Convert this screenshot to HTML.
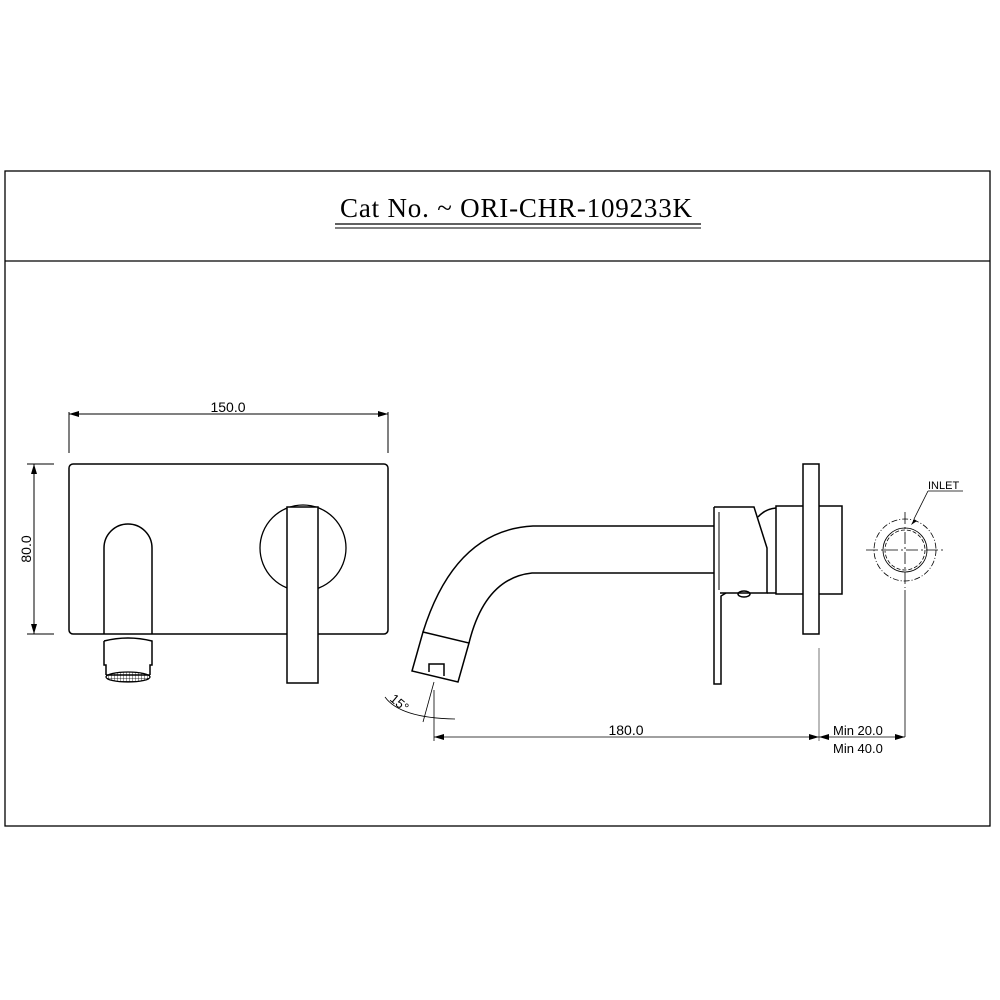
<!DOCTYPE html>
<html><head><style>body{margin:0;background:#fff}svg{display:block}</style></head><body>
<svg width="1000" height="1000" viewBox="0 0 1000 1000" xmlns="http://www.w3.org/2000/svg" font-family="Liberation Sans, sans-serif">
<defs>
<marker id="a" viewBox="0 0 10 6" refX="10" refY="3" markerWidth="10" markerHeight="6" orient="auto-start-reverse" markerUnits="userSpaceOnUse"><path d="M0,0L10,3L0,6z" fill="#000"/></marker>
<pattern id="h" width="3" height="3" patternUnits="userSpaceOnUse"><path d="M0,0H3M0,0V3" stroke="#000" stroke-width="0.8"/></pattern>
</defs>
<g fill="none" stroke="#000" stroke-width="1.3">
<rect x="5" y="171" width="985" height="655"/>
<line x1="5" y1="261" x2="990" y2="261"/>
<line x1="335" y1="224" x2="701" y2="224"/>
<line x1="335" y1="228" x2="701" y2="228" stroke-width="1"/>
</g>
<text x="340" y="217" font-family="Liberation Serif, serif" font-size="27" textLength="352" lengthAdjust="spacing">Cat No. ~ ORI-CHR-109233K</text>

<g fill="none" stroke="#000" stroke-width="1">
<line x1="69" y1="412" x2="69" y2="453"/><line x1="388" y1="412" x2="388" y2="453"/>
<line x1="69" y1="414" x2="388" y2="414" marker-start="url(#a)" marker-end="url(#a)"/>
<line x1="27" y1="464" x2="54" y2="464"/><line x1="27" y1="634" x2="54" y2="634"/>
<line x1="34" y1="464" x2="34" y2="634" marker-start="url(#a)" marker-end="url(#a)"/>
</g>
<text x="228" y="412" font-size="14" text-anchor="middle">150.0</text>
<text x="0" y="0" font-size="14" text-anchor="middle" transform="translate(31 549) rotate(-90)">80.0</text>

<g fill="none" stroke="#000" stroke-width="1.5">
<rect x="69" y="464" width="319" height="170" rx="4"/>
<path d="M104,634V548A24,24 0 0 1 152,548V634"/>
<path d="M104,641Q128,635 152,641V665H150V675M104,641V665H106V675"/>
<path d="M106,675H150"/>
<circle cx="303" cy="548" r="43" stroke-width="1.3"/>
<rect x="287" y="507" width="31" height="176" fill="#fff"/>
</g>
<ellipse cx="128" cy="677" rx="22" ry="5" fill="url(#h)" stroke="#000" stroke-width="1.3"/>

<g fill="none" stroke="#000" stroke-width="1.5">
<path d="M714,526H533Q455,530 423,632"/>
<path d="M714,573H532Q485,578 469,643"/>
<path d="M423,632L469,643L458,682L412,671Z"/>
<path d="M429,672V664H444V676"/>
<path d="M714,507H754L767,548V593H720"/>
<path d="M714,507V684H721V596L726,593"/>
<line x1="719" y1="512" x2="719" y2="590" stroke-width="1"/>
<ellipse cx="744" cy="594" rx="6" ry="3"/>
<path d="M758,517Q765,509 776,508M767,593H776"/>
<rect x="776" y="506" width="66" height="88"/>
<rect x="803" y="464" width="16" height="170" fill="#fff"/>
</g>
<g fill="none" stroke="#000" stroke-width="0.8">
<line x1="434" y1="690" x2="434" y2="741"/>
<line x1="434" y1="682" x2="423" y2="722"/>
<path d="M385,697Q400,718 455,719"/>
<line x1="819" y1="648" x2="819" y2="741" stroke="#555"/>
<line x1="434" y1="737" x2="819" y2="737" marker-start="url(#a)" marker-end="url(#a)"/>
<line x1="819" y1="737" x2="905" y2="737" marker-start="url(#a)" marker-end="url(#a)"/>
<line x1="905" y1="590" x2="905" y2="737"/>
<circle cx="905" cy="550" r="31" stroke-dasharray="6,2,1,2"/>
<circle cx="905" cy="550" r="22"/>
<circle cx="905" cy="550" r="20" stroke-dasharray="4,2"/>
<path d="M866,550H944M905,512V588" stroke-dasharray="12,3,2,3"/>
<path d="M928,491H963M928,491L914,519"/>
</g>
<path d="M914,519L911,525L917,521z" fill="#000"/>
<text x="0" y="0" font-size="13" transform="translate(389 700) rotate(40)">15°</text>
<text x="626" y="735" font-size="14" text-anchor="middle">180.0</text>
<text x="833" y="735" font-size="13">Min 20.0</text>
<text x="833" y="753" font-size="13">Min 40.0</text>
<text x="928" y="489" font-size="11">INLET</text>
</svg>
</body></html>
